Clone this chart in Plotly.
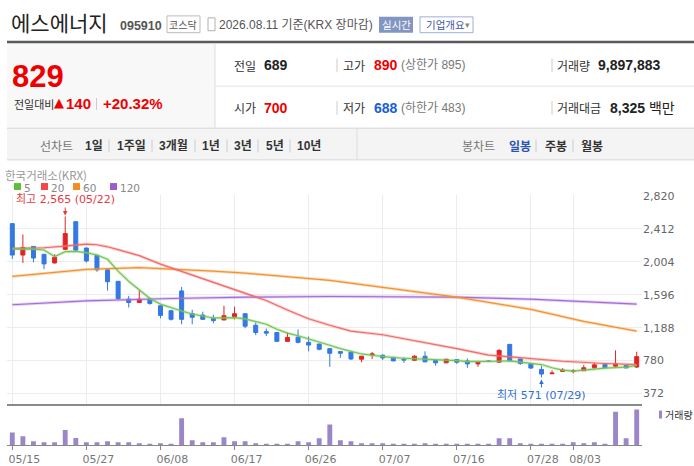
import plotly.graph_objects as go

W, H = 694, 466
KR = "Noto Sans CJK KR"
NUM = "Liberation Sans, Noto Sans CJK KR"
AX = "DejaVu Sans, Noto Sans CJK KR"

# trading days (60 bars)
dates = ['05/15', '05/18', '05/19', '05/20', '05/21', '05/22', '05/26', '05/27', '05/28', '05/29',
         '06/01', '06/02', '06/04', '06/05', '06/08', '06/09', '06/10', '06/11', '06/12', '06/15',
         '06/16', '06/17', '06/18', '06/19', '06/22', '06/23', '06/24', '06/25', '06/26', '06/29',
         '06/30', '07/01', '07/02', '07/03', '07/06', '07/07', '07/08', '07/09', '07/10', '07/13',
         '07/14', '07/15', '07/16', '07/20', '07/21', '07/22', '07/23', '07/24', '07/27', '07/28',
         '07/29', '07/30', '07/31', '08/03', '08/04', '08/05', '08/06', '08/07', '08/10', '08/11']
tick_dates = ['05/15', '05/27', '06/08', '06/17', '06/26', '07/07', '07/16', '07/28', '08/03']

opens = [2477, 2088, 2195, 2097, 1990, 2158, 2501, 2174, 2084, 1904,
         1762, 1541, 1500, 1541, 1459, 1398, 1643, 1361, 1344, 1300,
         1283, 1324, 1361, 1218, 1140, 1128, 1018, 1070, 1006, 985,
         928, 891, 886, 797, 850, 846, 821, 797, 784, 834,
         780, 752, 792, 776, 739, 776, 760, 981, 800, 744,
         670, 617, 646, 646, 654, 691, 735, 711, 720, 700]
highs = [2480, 2342, 2199, 2100, 2097, 2565, 2505, 2182, 2088, 1925,
         1766, 1582, 1651, 1560, 1468, 1410, 1692, 1410, 1386, 1349,
         1459, 1447, 1361, 1251, 1177, 1128, 1128, 1165, 1079, 990,
         936, 895, 902, 834, 886, 858, 825, 821, 846, 895,
         797, 797, 796, 805, 760, 784, 920, 985, 805, 748,
         715, 658, 686, 674, 727, 752, 738, 907, 730, 890]
lows = [2039, 1990, 1998, 1913, 1982, 2149, 2130, 1995, 1880, 1647,
        1530, 1438, 1496, 1472, 1303, 1275, 1230, 1230, 1285, 1243,
        1283, 1291, 1181, 1095, 1083, 1018, 1018, 993, 895, 907,
        703, 813, 788, 760, 800, 788, 772, 752, 780, 760,
        715, 748, 739, 690, 703, 764, 752, 772, 727, 680,
        571, 615, 644, 621, 652, 678, 688, 700, 685, 688]
closes = [2088, 2182, 2051, 1978, 2060, 2354, 2149, 2015, 1904, 1757,
          1549, 1500, 1541, 1488, 1340, 1291, 1291, 1316, 1291, 1275,
          1336, 1361, 1206, 1128, 1120, 1018, 1067, 1006, 972, 920,
          871, 871, 800, 834, 862, 813, 776, 788, 834, 764,
          752, 797, 760, 739, 760, 768, 907, 776, 744, 687,
          613, 625, 662, 650, 691, 727, 691, 740, 689, 829]
# volume, thousand shares
volumes = [3570, 2470, 1100, 820, 820, 4210, 2010, 820, 820, 1100,
           820, 820, 550, 280, 550, 280, 7510, 1370, 820, 820,
           2200, 1100, 1100, 550, 280, 280, 280, 1100, 820, 1920,
           5770, 1370, 1100, 550, 550, 550, 280, 280, 280, 550,
           280, 280, 280, 280, 280, 280, 1920, 1920, 550, 280,
           280, 280, 280, 820, 550, 820, 280, 9340, 1920, 9898]

ma5 = [2162, 2162, 2162, 2150, 2068, 2130, 2134, 2117, 2088, 2035,
       1888, 1762, 1651, 1549, 1480, 1435, 1394, 1357, 1328, 1308,
       1308, 1312, 1296, 1263, 1230, 1169, 1120, 1088, 1051, 1010,
       970, 928, 891, 862, 846, 829, 817, 809, 805, 800,
       788, 784, 780, 768, 768, 764, 772, 776, 764, 748,
       731, 691, 662, 650, 658, 674, 687, 695, 699, 719]
ma20_idx = [0, 3, 5, 7, 8, 9, 10, 12, 14, 16, 18, 21, 23, 24, 26, 28, 30, 32, 35, 39, 42, 45, 48, 52, 56, 59]
ma20 = [2170, 2178, 2199, 2223, 2215, 2190, 2154, 2080, 1975, 1885, 1794, 1665, 1575, 1524, 1406, 1298,
        1218, 1145, 1100, 1006, 928, 848, 813, 772, 744, 731]
ma60_idx = [0, 7, 12, 15, 19, 22, 26, 30, 35, 42, 49, 54, 59]
ma60 = [1823, 1909, 1933, 1917, 1888, 1864, 1819, 1774, 1688, 1566, 1415, 1265, 1145]
ma120_idx = [0, 7, 15, 22, 30, 42, 49, 54, 59]
ma120 = [1472, 1521, 1549, 1566, 1574, 1566, 1541, 1512, 1480]

price_ticks = [372, 780, 1188, 1596, 2004, 2412, 2820]

UP, DOWN = '#e02424', '#3478e2'


def X(px):
    return px / W


def Y(py):
    return 1 - py / H


fig = go.Figure()
fig.add_trace(go.Candlestick(x=dates, open=opens, high=highs, low=lows, close=closes,
                             increasing=dict(line=dict(color=UP, width=1), fillcolor=UP),
                             decreasing=dict(line=dict(color=DOWN, width=1), fillcolor=DOWN),
                             whiskerwidth=0, showlegend=False, hoverinfo='skip'))

for xs, ys, col in [([dates[i] for i in ma120_idx], ma120, '#a66bd8'),
                    ([dates[i] for i in ma60_idx], ma60, '#f59230'),
                    ([dates[i] for i in ma20_idx], ma20, '#f26a6a'),
                    (dates, ma5, '#72c655')]:
    fig.add_trace(go.Scatter(x=xs, y=ys, mode='lines', line=dict(color=col, width=3),
                             opacity=0.3, showlegend=False, hoverinfo='skip'))
    fig.add_trace(go.Scatter(x=xs, y=ys, mode='lines', line=dict(color=col, width=1.2),
                             showlegend=False, hoverinfo='skip'))

fig.add_trace(go.Bar(x=dates, y=volumes, marker=dict(color='#9a86c9', line=dict(width=0)),
                     width=0.46, xaxis='x2', yaxis='y2', showlegend=False, hoverinfo='skip'))

xd = [X(7), X(642)]
fig.update_layout(
    width=W, height=H, margin=dict(l=0, r=0, t=0, b=0), autosize=False,
    paper_bgcolor='white', plot_bgcolor='white', boxgap=0.46,
    xaxis=dict(domain=xd, type='category', categoryorder='array', categoryarray=dates,
               range=[-0.5, 59.5], anchor='y', tickvals=tick_dates, showticklabels=False,
               showgrid=True, gridcolor='#ececec', gridwidth=1, ticks='',
               showline=True, linecolor='#8a8a8a', linewidth=2, rangeslider=dict(visible=False),
               fixedrange=True),
    yaxis=dict(domain=[Y(403), Y(192.2)], range=[246, 2830], side='right', anchor='x',
               tickvals=price_ticks, tickformat=',d', showgrid=True, gridcolor='#ececec',
               zeroline=False, ticks='', tickfont=dict(family=AX, size=11, color='#666'),
               fixedrange=True),
    xaxis2=dict(domain=xd, type='category', categoryorder='array', categoryarray=dates,
                range=[-0.5, 59.5], anchor='y2', tickvals=tick_dates, showgrid=False,
                ticks='outside', ticklen=4, tickcolor='#888', showline=True, linecolor='#888',
                linewidth=1, ticklabelshift=12, tickfont=dict(family=AX, size=11, color='#777'),
                fixedrange=True),
    yaxis2=dict(domain=[Y(445), Y(403)], range=[0, 11550], visible=False, fixedrange=True),
)

shapes = []


def rect(x0, y0, x1, y1, fill=None, line=None, lw=1):
    shapes.append(dict(type='rect', xref='paper', yref='paper', x0=X(x0), x1=X(x1), y0=Y(y1), y1=Y(y0),
                       fillcolor=fill if fill else 'rgba(0,0,0,0)',
                       line=dict(color=line if line else 'rgba(0,0,0,0)', width=lw if line else 0),
                       layer='below'))


def seg(x0, y0, x1, y1, color, lw=1):
    shapes.append(dict(type='line', xref='paper', yref='paper', x0=X(x0), x1=X(x1), y0=Y(y0), y1=Y(y1),
                       line=dict(color=color, width=lw)))


def ann(x, y, s, size=12, color='#333', family=KR, anchor='left', pad=1):
    fig.add_annotation(x=X(x), y=Y(y), xref='paper', yref='paper', text=s, showarrow=False,
                       xanchor=anchor, yanchor='middle', borderpad=pad,
                       font=dict(size=size, color=color, family=family))


# title row
ann(9, 17, '에스에너지', 21, '#222')
ann(118, 21, '<b>095910</b>', 12.5, '#555', NUM)
rect(167, 11, 200, 28, 'white', '#bbbbbb')
ann(183.5, 19.5, '코스닥', 10, '#555', KR, 'center')
rect(208, 13, 215, 26, None, '#b0b0b0')
ann(217, 20, '2026.08.11 기준(KRX 장마감)', 12, '#555', NUM)
rect(379, 12, 413, 28, '#8395c2', None)
ann(396, 20, '실시간', 10.5, 'white', KR, 'center')
rect(420, 12, 473, 28, 'white', '#9eaed6')
ann(424, 20, '기업개요', 10.5, '#3f55a6', KR)
ann(463, 20, '▾', 9, '#888', KR)
seg(7, 37.5, 694, 37.5, '#5a5a5a', 2.5)

# info panel
rect(7, 39, 215, 124, '#f8f8f8', None)
seg(215, 39, 215, 124, '#dddddd')
seg(215, 82, 694, 82, '#e4e4e4')
seg(7, 124.5, 694, 124.5, '#d2d2d2')
ann(10, 72, '<b>829</b>', 31, '#ee0000', NUM)
ann(12, 100, '전일대비', 11, '#333', KR)
ann(52, 99, '▲', 13, '#ee0000', AX)
ann(64, 100, '<b>140</b>', 15, '#ee0000', NUM)
seg(96.5, 94, 96.5, 106, '#cccccc')
ann(101, 100, '<b>+20.32%</b>', 15, '#ee0000', NUM)

ann(232, 61, '전일', 12, '#333')
ann(262, 61, '<b>689</b>', 14, '#222', NUM)
seg(337, 54, 337, 68, '#cccccc')
ann(341, 61, '고가', 12, '#333')
ann(372, 61, '<b>890</b>', 14, '#ee0000', NUM)
ann(399, 61, '(상한가 895)', 12, '#777', NUM)
seg(552, 54, 552, 68, '#cccccc')
ann(555, 61, '거래량', 12, '#333')
ann(596, 61, '<b>9,897,883</b>', 14, '#222', NUM)

ann(232, 104, '시가', 12, '#333')
ann(262, 104, '<b>700</b>', 14, '#ee0000', NUM)
seg(337, 97, 337, 111, '#cccccc')
ann(341, 104, '저가', 12, '#333')
ann(372, 104, '<b>688</b>', 14, '#1660d9', NUM)
ann(399, 104, '(하한가 483)', 12, '#777', NUM)
seg(552, 97, 552, 111, '#cccccc')
ann(555, 104, '거래대금', 12, '#333')
ann(608, 104, '<b>8,325</b> 백만', 14, '#222', NUM)

# period tabs
rect(7, 125, 694, 156, '#f4f4f4', None)
seg(7, 156.5, 694, 156.5, '#d6d6d6')
seg(357, 125, 357, 156, '#dddddd')
ann(38, 142.5, '선차트', 12, '#777')
tabs = [('1일', 83), ('1주일', 115), ('3개월', 157), ('1년', 200), ('3년', 232), ('5년', 264), ('10년', 295)]
for s, x in tabs:
    ann(x, 142.5, '<b>' + s + '</b>', 12, '#333', NUM)
for x in [109, 152, 195, 227, 258, 290]:
    seg(x, 136, x, 149, '#cccccc')
ann(460, 142.5, '봉차트', 12, '#777')
ann(507, 142.5, '<b>일봉</b>', 12, '#2a55b0')
seg(536, 136, 536, 149, '#cccccc')
ann(543, 142.5, '<b>주봉</b>', 12, '#333')
seg(573, 136, 573, 149, '#cccccc')
ann(579, 142.5, '<b>월봉</b>', 12, '#333')

# chart legend
ann(4, 172, '한국거래소(KRX)', 11.5, '#999', pad=0)
for x0, col, lab in [(14, '#5cbf3b', '5'), (41, '#f04a4a', '20'), (73, '#f68b1f', '60'), (110, '#9a5ccf', '120')]:
    rect(x0, 180, x0 + 7, 187, col, None)
    ann(x0 + 9, 184.5, lab, 10.5, '#888', AX, pad=0)
rect(659, 410, 662, 418, '#9a86c9', None)
ann(663, 414, '거래량', 10, '#333')

fig.update_layout(shapes=shapes)

# high / low markers
fig.add_annotation(x=dates[highs.index(max(highs))], y=max(highs), xref='x', yref='y',
                   text='최고 {:,} ({})'.format(max(highs), dates[highs.index(max(highs))]),
                   showarrow=True, ax=0, ay=-17, arrowhead=2, arrowsize=0.9, arrowwidth=1,
                   arrowcolor='#e8383d', standoff=1, font=dict(family=AX, size=11, color='#e8383d'))
fig.add_annotation(x=dates[lows.index(min(lows))], y=min(lows), xref='x', yref='y',
                   text='최저 {:,} ({})'.format(min(lows), dates[lows.index(min(lows))]),
                   showarrow=True, ax=0, ay=18, arrowhead=2, arrowsize=0.9, arrowwidth=1,
                   arrowcolor='#2f6fd6', standoff=2, font=dict(family=AX, size=11, color='#2f6fd6'))

fig.write_html("out.html", config={'displayModeBar': False},
               post_script="document.body.style.margin='0';document.body.style.overflow='hidden';")
